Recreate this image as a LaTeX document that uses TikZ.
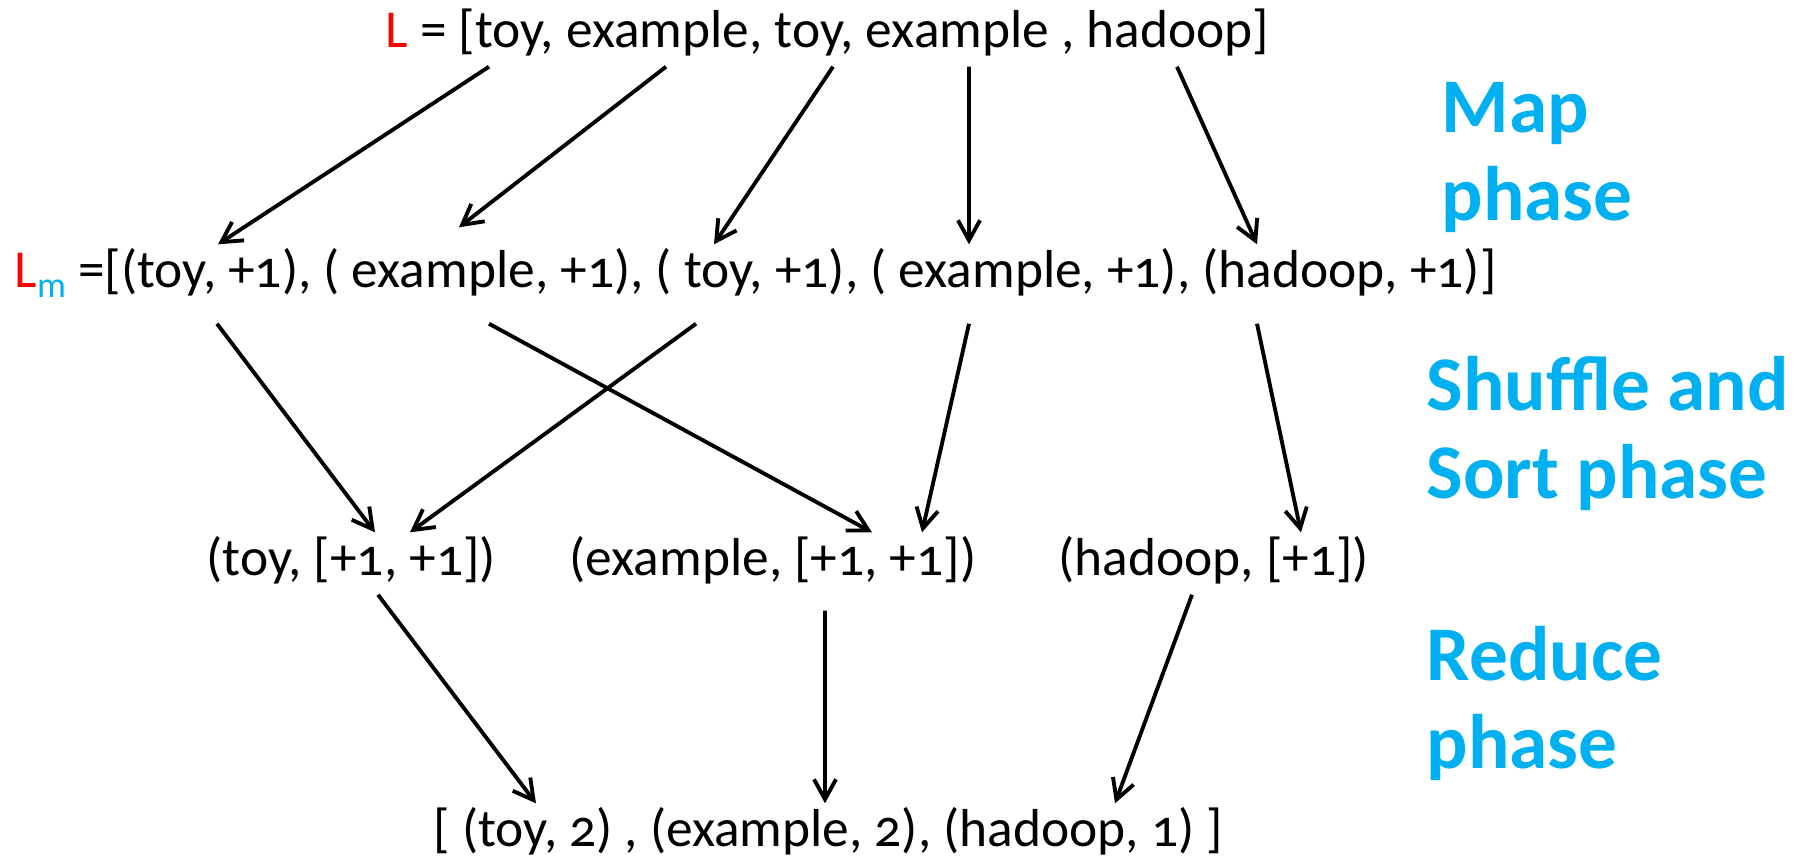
\documentclass[tikz,border=0pt]{standalone}
\usepackage{fontspec}
\setmainfont{Carlito}[Numbers=OldStyle]
\usepackage{xcolor}
\usepackage{tikz}
\usetikzlibrary{arrows.meta}
\definecolor{keyred}{RGB}{255,0,0}
\definecolor{phaseblue}{RGB}{0,176,240}
\newcommand{\mrfont}{\fontsize{15.2}{18}\selectfont}
\newcommand{\phasefont}{\fontsize{22}{25}\selectfont\bfseries}
\tikzstyle{listline} = [inner xsep=0pt, inner ysep=0.05cm, text height=0.37cm, text depth=0.14cm, anchor=base west, font=\mrfont]
\tikzstyle{phaselabel} = [inner sep=0pt, anchor=north west, align=left, text=phaseblue, font=\phasefont]
\tikzstyle{arrow} = [line width=1.1pt, -{Straight Barb[length=2mm,width=2.2mm]}]

\begin{document}
\begin{tikzpicture}
	\useasboundingbox (0,0) rectangle (17.94,-8.59);

	% the four lists
	\node (src) [listline] at (3.85,-0.47) {{\color{keyred}L} = [toy, example, toy, example , hadoop]};
	\node (lst) [listline, text depth=0.31cm] at (0.14,-2.87) {{\color{keyred}L}\raisebox{-3pt}{\fontsize{10.3}{11}\selectfont\color{phaseblue}m} =[(toy, +1), ( example, +1), ( toy, +1), ( example, +1), (hadoop, +1)]};
	\node (toyg) [listline] at (2.06,-5.75) {(toy, [+1, +1])};
	\node (exg) [listline] at (5.69,-5.75) {(example, [+1, +1])};
	\node (hdg) [listline] at (10.58,-5.75) {(hadoop, [+1])};
	\node (res) [listline] at (4.33,-8.46) {[ (toy, 2) , (example, 2), (hadoop, 1) ]};

	% phase names
	\node (map) [phaselabel] at (14.41,-0.82) {Map\\phase};
	\node (shuf) [phaselabel] at (14.26,-3.56) {Shuffle and\\Sort phase};
	\node (red) [phaselabel] at (14.26,-6.26) {Reduce\\phase};

	% map
	\draw [arrow] ([xshift=1.04cm]src.south west) -- ([xshift=2.04cm]lst.north west);
	\draw [arrow] ([xshift=2.81cm]src.south west) -- ([xshift=4.45cm,yshift=0.17cm]lst.north west);
	\draw [arrow] ([xshift=4.48cm]src.south west) -- ([xshift=7.00cm]lst.north west);
	\draw [arrow] ([xshift=5.84cm]src.south west) -- ([xshift=9.55cm]lst.north west);
	\draw [arrow] ([xshift=7.92cm]src.south west) -- ([xshift=12.43cm]lst.north west);

	% shuffle and sort
	\draw [arrow] ([xshift=2.03cm]lst.south west) -- ([xshift=1.69cm]toyg.north west);
	\draw [arrow] ([xshift=6.82cm]lst.south west) -- ([xshift=2.04cm]toyg.north west);
	\draw [arrow] ([xshift=4.75cm]lst.south west) -- ([xshift=3.03cm]exg.north west);
	\draw [arrow] ([xshift=9.55cm]lst.south west) -- ([xshift=3.53cm]exg.north west);
	\draw [arrow] ([xshift=12.43cm]lst.south west) -- ([xshift=2.43cm]hdg.north west);

	% reduce
	\draw [arrow] ([xshift=1.72cm]toyg.south west) -- ([xshift=1.03cm]res.north west);
	\draw [arrow] ([xshift=2.56cm,yshift=-0.16cm]exg.south west) -- ([xshift=3.92cm]res.north west);
	\draw [arrow] ([xshift=1.34cm]hdg.south west) -- ([xshift=6.82cm]res.north west);

\end{tikzpicture}
\end{document}
